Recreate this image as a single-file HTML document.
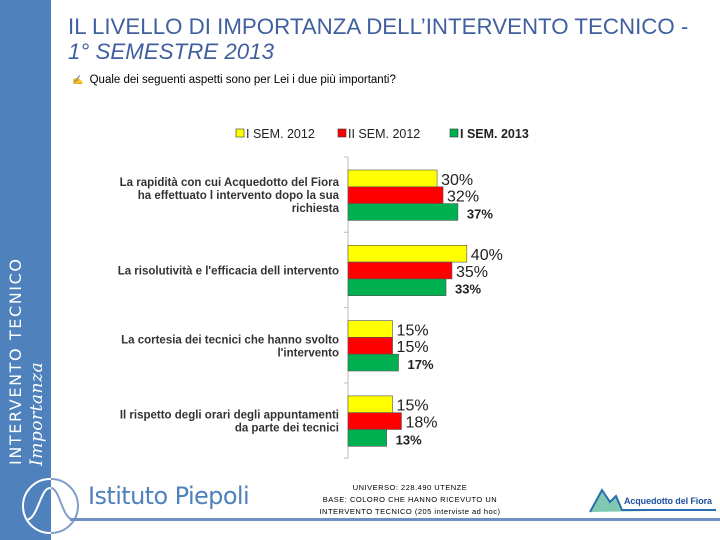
<!DOCTYPE html>
<html><head><meta charset="utf-8"><style>
body{margin:0;width:720px;height:540px;overflow:hidden;background:#fff;position:relative;font-family:"Liberation Sans",sans-serif}
.abs{position:absolute}
</style></head><body>
<div class="abs" style="left:0;top:0;width:51px;height:540px;background:#4f81bd"></div>
<div class="abs" style="left:7px;top:465px;transform-origin:0 0;transform:rotate(-90deg);color:#fff;font-family:'DejaVu Sans',sans-serif;font-size:16px;letter-spacing:1.6px;white-space:nowrap;line-height:18px">INTERVENTO TECNICO</div>
<div class="abs" style="left:28px;top:466px;transform-origin:0 0;transform:rotate(-90deg);color:#fff;font-family:'DejaVu Serif',serif;font-style:italic;font-size:17px;letter-spacing:0.5px;white-space:nowrap;line-height:18px">Importanza</div>
<div class="abs" style="left:68px;top:14px;color:#3f5f9f;font-size:22.3px;line-height:25px;white-space:nowrap">IL LIVELLO DI IMPORTANZA DELL’INTERVENTO TECNICO -<br><i>1° SEMESTRE 2013</i></div>
<div class="abs" style="left:72px;top:74px;font-size:11.5px;color:#000;white-space:nowrap"><span style="color:#999;font-size:9px">✍</span>&nbsp;&nbsp;Quale dei seguenti aspetti sono per Lei i due più importanti?</div>
<svg class="abs" style="left:0;top:0" width="720" height="540" id="chart"></svg>
<svg class="abs" style="left:20px;top:476px" width="62" height="62"><circle cx="30" cy="30" r="27" stroke="#fff" stroke-width="2" fill="none"/><path d="M31 3 A27 27 0 0 1 31 57" stroke="#7f9fc8" stroke-width="2" fill="none"/><path d="M6 44 C18 44 20 12 30 12 C40 12 42 44 54 44" stroke="#fff" stroke-width="2" fill="none"/><path d="M31 12 C40 12 42 44 54 44" stroke="#7f9fc8" stroke-width="2" fill="none"/></svg>
<div class="abs" style="left:88px;top:482px;color:#4f81bd;font-family:'DejaVu Sans',sans-serif;font-size:24px;letter-spacing:-0.6px;white-space:nowrap">Istituto Piepoli</div>
<div class="abs" style="left:70px;top:518px;width:650px;height:3px;background:#6f8fc6"></div>
<div class="abs" style="left:300px;top:482px;width:220px;text-align:center;font-size:7.5px;line-height:12px;letter-spacing:0.5px;color:#000">UNIVERSO: 228.490 UTENZE<br>BASE: COLORO CHE HANNO RICEVUTO UN<br>INTERVENTO TECNICO (205 interviste ad hoc)</div>
<svg class="abs" style="left:588px;top:484px" width="130" height="32"><path d="M2 28 L14 6 L22 18 L28 12 L34 26 L128 26" stroke="#2a6db0" stroke-width="2" fill="#7fc9b0"/><text x="36" y="20" font-size="9" font-weight="bold" fill="#1f4f9f" font-family="Liberation Sans" textLength="88">Acquedotto del Fiora</text></svg>
<script>
const categories=[["La rapidità con cui Acquedotto del Fiora","ha effettuato l intervento dopo la sua","richiesta"],["La risolutività e l'efficacia dell intervento"],["La cortesia dei tecnici che hanno svolto","l'intervento"],["Il rispetto degli orari degli appuntamenti","da parte dei tecnici"]];
const seriesNames=["I SEM. 2012","II SEM. 2012","I SEM. 2013"];
const s2012a=[30,40,15,15];
const s2012b=[32,35,15,18];
const s2013=[37,33,17,13];
const colors=["#ffff00","#ff0000","#00b050"];
const svg=document.getElementById('chart');const NS='http://www.w3.org/2000/svg';
function mk(t,a,p){const e=document.createElementNS(NS,t);for(const k in a)e.setAttribute(k,a[k]);(p||svg).appendChild(e);return e;}
const x0=348,ppu=2.97,yTop=157,pitch=75.3,gOff=13,bh=16.8;
const xs=v=>x0+v*ppu;
const ys=(g,s)=>yTop+g*pitch+gOff+s*bh;
const series=[s2012a,s2012b,s2013];
const ax=mk('line',{x1:x0,y1:yTop,x2:x0,y2:yTop+4*pitch,stroke:'#bbb','stroke-width':1});

for(let g=0;g<=4;g++){const t=mk('line',{x1:x0-4,x2:x0,y1:yTop+g*pitch,y2:yTop+g*pitch,stroke:'#bbb'});}
categories.forEach((lines,g)=>{
 const cy=ys(g,1.5);
 lines.forEach((ln,i)=>{const t=mk('text',{x:339,y:cy+(i-(lines.length-1)/2)*13+4,'text-anchor':'end','font-size':11.5,'font-weight':'bold',fill:'#333','font-family':'Liberation Sans'});t.textContent=ln;});
 series.forEach((arr,s)=>{
  const r=mk('rect',{x:x0,y:ys(g,s),width:xs(arr[g])-x0,height:bh,fill:colors[s],stroke:'#555','stroke-width':0.6});
  
  const bold=s===2;
  const t=mk('text',{x:xs(arr[g])+(bold?9:4),y:ys(g,s)+bh-2,'font-size':bold?13:16,'font-weight':bold?'bold':'normal',fill:'#222','font-family':'Liberation Sans'});
  t.textContent=arr[g]+'%';
 });
});
let lx=236;
seriesNames.forEach((n,s)=>{
 const r=mk('rect',{x:lx,y:129,width:8,height:8,fill:colors[s],stroke:'#333','stroke-width':0.6});
 
 const t=mk('text',{x:lx+10,y:138,'font-size':12.5,'font-weight':s===2?'bold':'normal',fill:'#222','font-family':'Liberation Sans'});
 t.textContent=n;
 lx+=[102,112][s]||0;
});
</script>
</body></html>
